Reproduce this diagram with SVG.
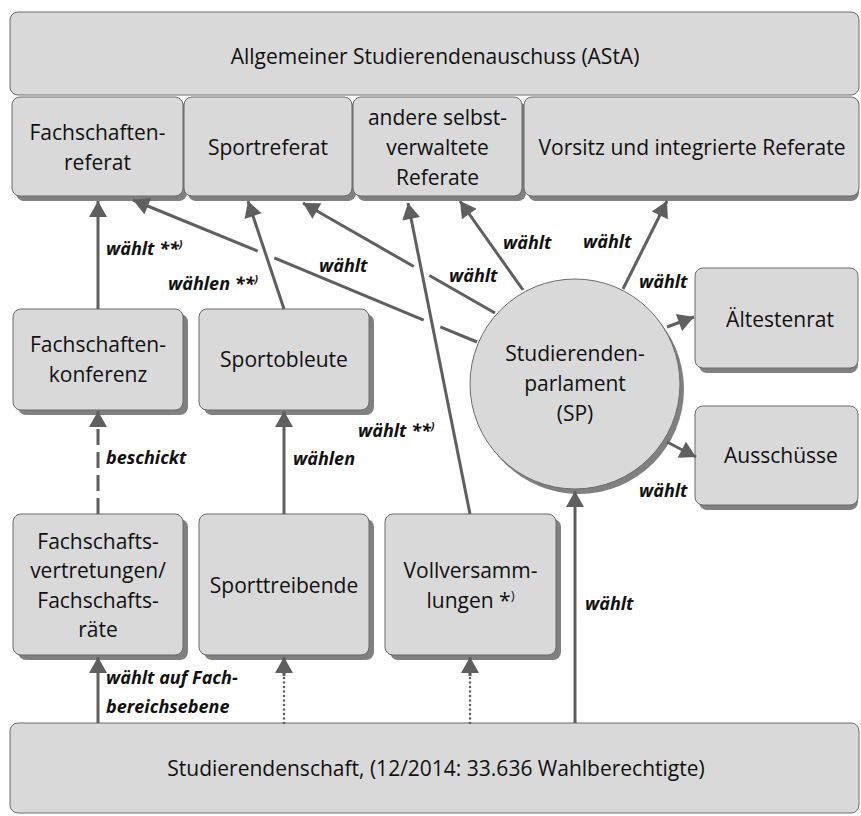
<svg xmlns="http://www.w3.org/2000/svg" width="861" height="816" viewBox="0 0 861 816">
<style>
.box{fill:#d9d9d9;stroke:#6b6b6b;stroke-width:1}
.sh{fill:#808080}
.t{font-family:"Open Sans","Liberation Sans",sans-serif;font-size:21px;fill:#111;text-anchor:middle}
.lb{font-family:"Open Sans","Liberation Sans",sans-serif;font-size:18px;font-weight:bold;font-style:italic;fill:#111}
.c{fill:none;stroke:#5f5f5f;stroke-width:3}
.dash{stroke-dasharray:16 7}
.dot{stroke-dasharray:0 4.5;stroke-linecap:round;stroke-width:2.6}
</style>
<defs>
<marker id="ah" markerUnits="userSpaceOnUse" markerWidth="18" markerHeight="18" refX="16" refY="9" orient="auto" viewBox="0 0 16 18">
<path d="M0,0 L16,9 L0,18 z" fill="#5f5f5f"/>
</marker>
</defs>

<g id="asta">
<rect class="box" x="10" y="12" width="849" height="83" rx="8"/>
<text class="t" x="435" y="64">Allgemeiner Studierendenauschuss (AStA)</text>
</g>

<g id="fachschaftenreferat">
<rect class="sh" x="16" y="102" width="171" height="99" rx="8"/>
<rect class="box" x="12" y="97" width="171" height="99" rx="8"/>
<text class="t" x="97.5" y="140">Fachschaften-</text>
<text class="t" x="97.5" y="170">referat</text>
</g>
<g id="sportreferat">
<rect class="sh" x="188" y="102" width="168" height="99" rx="8"/>
<rect class="box" x="184" y="97" width="168" height="99" rx="8"/>
<text class="t" x="268" y="155">Sportreferat</text>
</g>
<g id="andere">
<rect class="sh" x="357" y="102" width="169" height="99" rx="8"/>
<rect class="box" x="353" y="97" width="169" height="99" rx="8"/>
<text class="t" x="437.5" y="125">andere selbst-</text>
<text class="t" x="437.5" y="155">verwaltete</text>
<text class="t" x="437.5" y="185">Referate</text>
</g>
<g id="vorsitz">
<rect class="sh" x="528" y="102" width="331" height="99" rx="8"/>
<rect class="box" x="524" y="97" width="335" height="99" rx="8"/>
<text class="t" x="692" y="155">Vorsitz und integrierte Referate</text>
</g>

<g id="fachschaftenkonferenz">
<rect class="sh" x="18" y="314" width="170" height="101" rx="8"/>
<rect class="box" x="13" y="309" width="170" height="101" rx="8"/>
<text class="t" x="98" y="352">Fachschaften-</text>
<text class="t" x="98" y="382">konferenz</text>
</g>
<g id="sportobleute">
<rect class="sh" x="204" y="314" width="170" height="101" rx="8"/>
<rect class="box" x="199" y="309" width="170" height="101" rx="8"/>
<text class="t" x="284" y="367">Sportobleute</text>
</g>

<g id="fachschaftsvertretungen">
<rect class="sh" x="18" y="519" width="170" height="141" rx="8"/>
<rect class="box" x="13" y="514" width="170" height="141" rx="8"/>
<text class="t" x="98" y="549">Fachschafts-</text>
<text class="t" x="98" y="578">vertretungen/</text>
<text class="t" x="98" y="608">Fachschafts-</text>
<text class="t" x="98" y="637">räte</text>
</g>
<g id="sporttreibende">
<rect class="sh" x="204" y="519" width="170" height="141" rx="8"/>
<rect class="box" x="199" y="514" width="170" height="141" rx="8"/>
<text class="t" x="284" y="593">Sporttreibende</text>
</g>
<g id="vollversammlungen">
<rect class="sh" x="390" y="519" width="171" height="141" rx="8"/>
<rect class="box" x="385" y="514" width="171" height="141" rx="8"/>
<text class="t" x="470.5" y="578">Vollversamm-</text>
<text class="t" x="470.5" y="608">lungen *<tspan font-size="13" dy="-8">)</tspan></text>
</g>

<g id="sp">
<circle class="sh" cx="579" cy="389" r="105"/>
<circle class="box" cx="575" cy="384" r="105"/>
<text class="t" x="575" y="361">Studierenden-</text>
<text class="t" x="575" y="391">parlament</text>
<text class="t" x="575" y="421">(SP)</text>
</g>

<g id="aeltestenrat">
<rect class="sh" x="699" y="273" width="159" height="100" rx="8"/>
<rect class="box" x="695" y="268" width="163" height="100" rx="8"/>
<text class="t" x="780" y="327">Ältestenrat</text>
</g>
<g id="ausschuesse">
<rect class="sh" x="699" y="411" width="159" height="99" rx="8"/>
<rect class="box" x="695" y="406" width="163" height="99" rx="8"/>
<text class="t" x="781" y="463">Ausschüsse</text>
</g>

<g id="studierendenschaft">
<rect class="box" x="10" y="723" width="849" height="90" rx="8"/>
<text class="t" x="436" y="776">Studierendenschaft, (12/2014: 33.636 Wahlberechtigte)</text>
</g>

<g id="connectors">
<path class="c" d="M98 309 L98 201" marker-end="url(#ah)"/>
<path class="c" d="M284 309 L248 201" marker-end="url(#ah)"/>
<path class="c" d="M477 342 L440.3 326.9 M423.7 320.1 L274.3 257.9 M257.7 251.1 L133 200" marker-end="url(#ah)"/>
<path class="c" d="M495 313 L429.4 275.5 M413.8 266.5 L303 203" marker-end="url(#ah)"/>
<path class="c" d="M470 514 L408 203" marker-end="url(#ah)"/>
<path class="c" d="M523 290 L460 201" marker-end="url(#ah)"/>
<path class="c" d="M623 289 L667 201" marker-end="url(#ah)"/>
<path class="c" d="M667 327 L694 317" marker-end="url(#ah)"/>
<path class="c" d="M667 442 L696 457" marker-end="url(#ah)"/>
<path class="c dash" d="M98 514 L98 411" marker-end="url(#ah)"/>
<path class="c" d="M284 514 L284 411" marker-end="url(#ah)"/>
<path class="c" d="M98 723 L98 657" marker-end="url(#ah)"/>
<path class="c dot" d="M284 723 L284 660"/>
<path class="c" d="M284 676 L284 657" marker-end="url(#ah)" stroke="none"/>
<path class="c dot" d="M470 723 L470 660"/>
<path class="c" d="M470 676 L470 657" marker-end="url(#ah)" stroke="none"/>
<path class="c" d="M575 723 L575 491" marker-end="url(#ah)"/>
</g>

<g id="labels">
<text class="lb" x="106" y="255">wählt **<tspan font-size="11" dy="-7">)</tspan></text>
<text class="lb" x="168" y="290">wählen **<tspan font-size="11" dy="-7">)</tspan></text>
<text class="lb" x="319" y="272">wählt</text>
<text class="lb" x="449" y="282">wählt</text>
<text class="lb" x="503" y="249">wählt</text>
<text class="lb" x="583" y="248">wählt</text>
<text class="lb" x="639" y="288">wählt</text>
<text class="lb" x="639" y="497">wählt</text>
<text class="lb" x="358" y="437">wählt **<tspan font-size="11" dy="-7">)</tspan></text>
<text class="lb" x="106" y="464">beschickt</text>
<text class="lb" x="293" y="465">wählen</text>
<text class="lb" x="585" y="610">wählt</text>
<text class="lb" x="106" y="684">wählt auf Fach-</text>
<text class="lb" x="106" y="713">bereichsebene</text>
</g>
</svg>
